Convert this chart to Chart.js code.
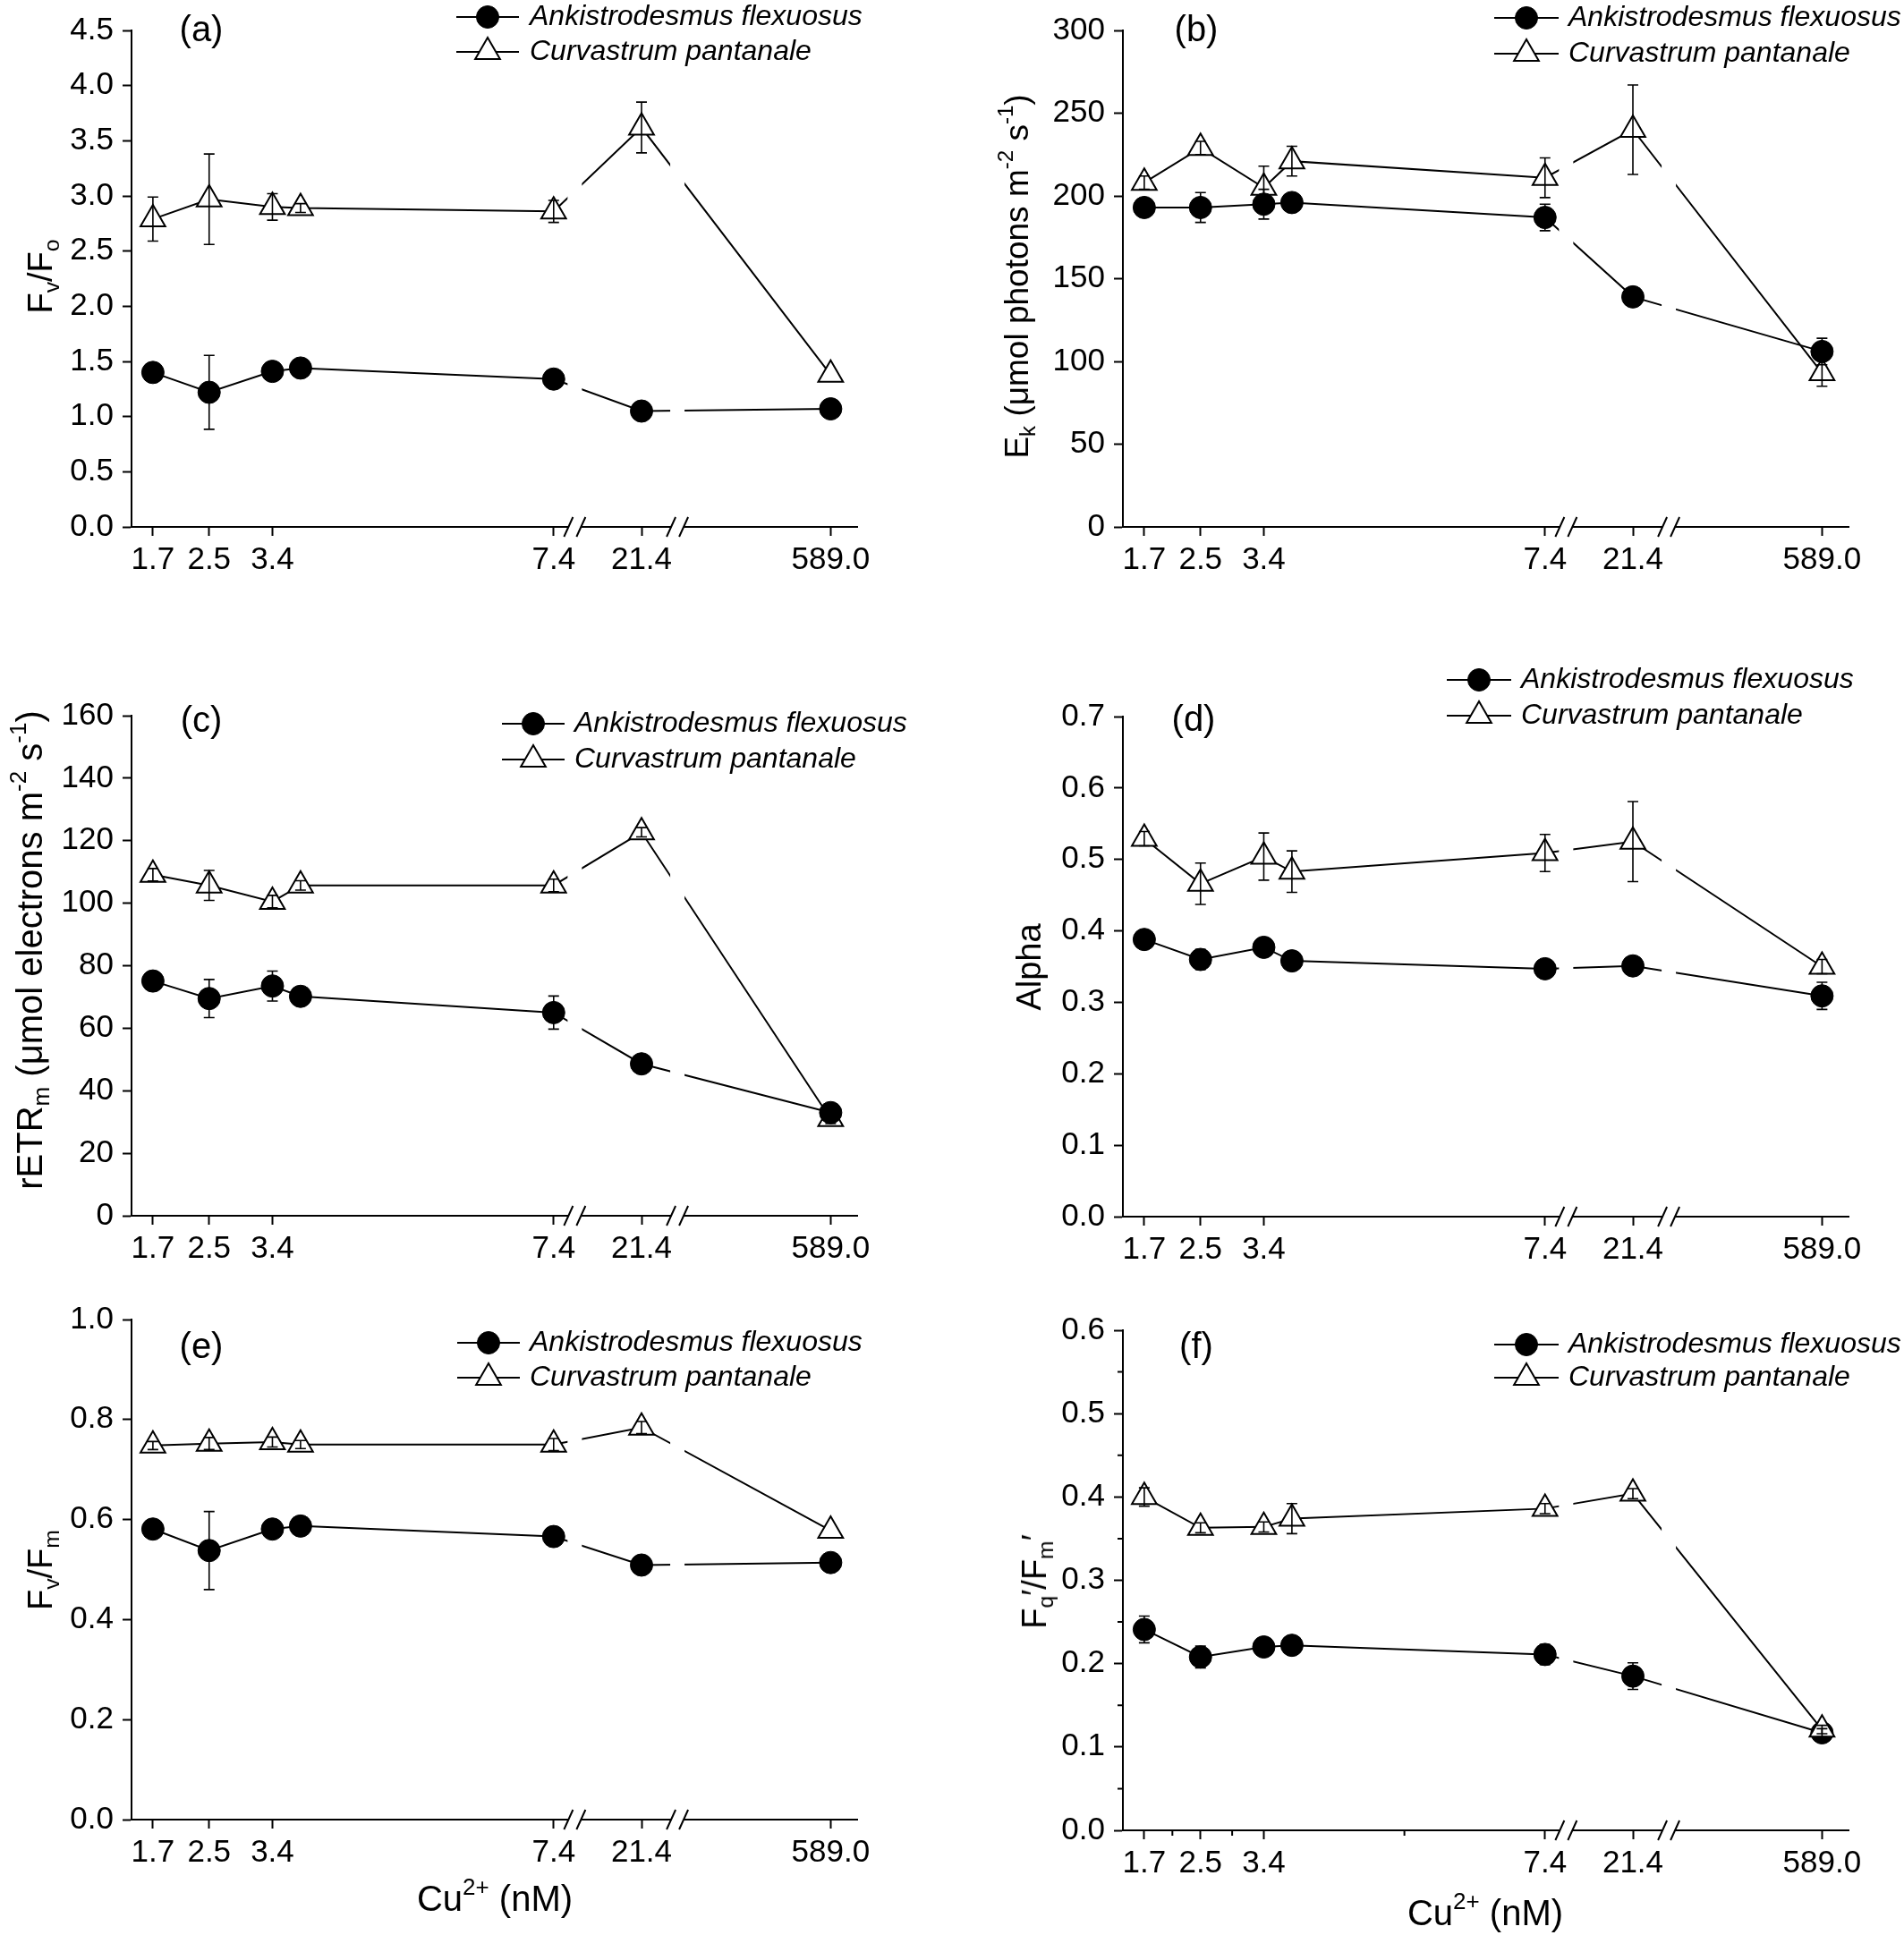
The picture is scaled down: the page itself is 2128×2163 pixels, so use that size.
<!DOCTYPE html>
<html>
<head>
<meta charset="utf-8">
<script src="https://cdn.jsdelivr.net/npm/chart.js@4.4.1/dist/chart.umd.min.js"></script>
<style>
  html, body { margin: 0; padding: 0; background: #fff; }
  #page { position: relative; width: 2128px; height: 2163px; overflow: hidden; background: #fff; }
  #page canvas { position: absolute; left: 0; top: 0; }
  .title { position: absolute; font-family: "Liberation Sans", Arial, sans-serif; font-size: 38px; line-height: 1; white-space: nowrap; color: #000; }
  .ytitle { transform: translate(-50%, -50%) rotate(-90deg); }
  .xtitle { transform: translate(-50%, -50%); }
  .title sub, .title sup { font-size: 65%; line-height: 0; position: relative; vertical-align: baseline; }
  .title sub { top: 0.32em; }
  .title sup { top: -0.7em; }
</style>
</head>
<body>
<div id="page"></div>
<script>
// 구리 농도 (nM) - x축 위치
const concentrations = [1.7, 2.5, 3.4, 3.8, 7.4, 21.4, 589.0];
const tickConcentrations = [1.7, 2.5, 3.4, 7.4, 21.4, 589.0];
const seriesNames = ["Ankistrodesmus flexuosus", "Curvastrum pantanale"];

// (a) Fv/Fo
const ankFvFo = [1.40, 1.22, 1.41, 1.44, 1.34, 1.05, 1.07];
const ankFvFoErr = [0.02, 0.335, 0.02, 0.02, 0.02, 0.02, 0.02];
const curFvFo = [2.79, 2.97, 2.90, 2.89, 2.86, 3.62, 1.38];
const curFvFoErr = [0.20, 0.41, 0.12, 0.04, 0.10, 0.23, 0];

// (b) Ek
const ankEk = [193, 193, 195, 196, 187, 139, 106];
const ankEkErr = [3, 9, 9, 3, 8, 3, 8];
const curEk = [208, 229, 205, 221, 211, 240, 93];
const curEkErr = [4, 4, 13, 9, 12, 27, 8];

// (c) rETRm
const ankEtr = [75.1, 69.5, 73.5, 70.2, 65.0, 48.6, 33.0];
const ankEtrErr = [1.5, 6.1, 4.8, 1.5, 5.3, 1.5, 1.5];
const curEtr = [109.1, 105.7, 100.5, 105.7, 105.7, 122.7, 31.0];
const curEtrErr = [2, 4.8, 2, 1.5, 2, 1.5, 1.5];

// (d) Alpha
const ankAlpha = [0.388, 0.360, 0.377, 0.358, 0.347, 0.351, 0.309];
const ankAlphaErr = [0.005, 0.014, 0.013, 0.005, 0.005, 0.005, 0.019];
const curAlpha = [0.529, 0.466, 0.504, 0.483, 0.509, 0.525, 0.350];
const curAlphaErr = [0.01, 0.029, 0.033, 0.029, 0.026, 0.056, 0.01];

// (e) Fv/Fm
const ankFvFm = [0.581, 0.538, 0.581, 0.587, 0.566, 0.509, 0.514];
const ankFvFmErr = [0.005, 0.078, 0.005, 0.005, 0.005, 0.005, 0.005];
const curFvFm = [0.748, 0.752, 0.755, 0.750, 0.750, 0.784, 0.578];
const curFvFmErr = [0.008, 0.012, 0.01, 0.008, 0.012, 0.012, 0];

// (f) Fq'/Fm'
const ankFq = [0.241, 0.208, 0.220, 0.222, 0.211, 0.185, 0.117];
const ankFqErr = [0.016, 0.013, 0.011, 0.005, 0.012, 0.016, 0.005];
const curFq = [0.400, 0.363, 0.364, 0.374, 0.386, 0.404, 0.121];
const curFqErr = [0.011, 0.006, 0.006, 0.018, 0.006, 0.006, 0.005];

// 끊어진 x축: 7.4까지는 선형, 그 뒤 두 구간은 압축
const breakAnchors = [[7.4, 7.4], [21.4, 8.65], [589.0, 11.34]];
const breakPositions = [7.70, 9.16];
const X_MIN = 1.396, X_MAX = 11.717;

function axisPos(c) {
  if (c <= breakAnchors[0][0]) return c;
  for (let i = 1; i < breakAnchors.length; i++) {
    const a = breakAnchors[i - 1], b = breakAnchors[i];
    if (c <= b[0]) return a[1] + (c - a[0]) / (b[0] - a[0]) * (b[1] - a[1]);
  }
  return breakAnchors[breakAnchors.length - 1][1];
}

const W = 2128, H = 2163;
const Y_AXIS_W = 110, X_AXIS_H = 80;
const FONT = '"Liberation Sans", Arial, sans-serif';
const GAP = 16;

// 오차막대, 축 끊김 표시, 범례, 패널 라벨
const panelDeco = {
  id: "panelDeco",
  beforeDatasetsDraw(chart) {
    const { ctx, scales: { x } } = chart;
    ctx.save();
    ctx.beginPath();
    let start = 0;
    breakPositions.forEach(b => {
      const px = x.getPixelForValue(b);
      ctx.rect(start, 0, px - GAP / 2 - start, chart.height);
      start = px + GAP / 2;
    });
    ctx.rect(start, 0, chart.width - start, chart.height);
    ctx.clip();
  },
  afterDatasetsDraw(chart) {
    const { ctx, scales: { x, y } } = chart;
    ctx.restore();
    // error bars
    ctx.save();
    ctx.strokeStyle = "#000";
    ctx.lineWidth = 1.6;
    chart.data.datasets.forEach(ds => {
      ds.errors.forEach((e, i) => {
        if (!e) return;
        const px = x.getPixelForValue(ds.data[i].x);
        const yt = y.getPixelForValue(ds.data[i].y + e);
        const yb = y.getPixelForValue(ds.data[i].y - e);
        ctx.beginPath();
        ctx.moveTo(px, yt); ctx.lineTo(px, yb);
        ctx.moveTo(px - 6, yt); ctx.lineTo(px + 6, yt);
        ctx.moveTo(px - 6, yb); ctx.lineTo(px + 6, yb);
        ctx.stroke();
      });
    });
    ctx.restore();
  },
  afterDraw(chart, args, opts) {
    const { ctx, chartArea, scales: { x, y } } = chart;
    const y0 = chartArea.bottom;
    ctx.save();
    // axis breaks
    breakPositions.forEach(b => {
      const px = x.getPixelForValue(b);
      ctx.fillStyle = "#fff";
      ctx.fillRect(px - 7, y0 - 4, 14, 8);
      ctx.strokeStyle = "#000";
      ctx.lineWidth = 2;
      ctx.beginPath();
      [-7, 7].forEach(dx => {
        ctx.moveTo(px + dx - 5, y0 + 11);
        ctx.lineTo(px + dx + 5, y0 - 11);
      });
      ctx.stroke();
    });
    // minor ticks (panel f)
    if (opts.minor) {
      ctx.strokeStyle = "#000";
      ctx.lineWidth = 2;
      ctx.beginPath();
      for (let v = opts.minor.yStep / 2; v < y.max; v += opts.minor.yStep) {
        const py = y.getPixelForValue(v);
        ctx.moveTo(chartArea.left, py); ctx.lineTo(chartArea.left - 6, py);
      }
      opts.minor.xBetween.forEach(pair => {
        const px = x.getPixelForValue((axisPos(pair[0]) + axisPos(pair[1])) / 2);
        ctx.moveTo(px, y0); ctx.lineTo(px, y0 + 6);
      });
      ctx.stroke();
    }
    // legend
    const lg = opts.legend;
    chart.data.datasets.forEach((ds, i) => {
      const ly = lg.rows[i];
      ctx.strokeStyle = "#000";
      ctx.lineWidth = 2;
      ctx.beginPath();
      ctx.moveTo(lg.x1, ly); ctx.lineTo(lg.x2, ly);
      ctx.stroke();
      ctx.fillStyle = ds.pointBackgroundColor;
      ctx.strokeStyle = ds.pointBorderColor;
      ctx.lineWidth = ds.pointBorderWidth;
      Chart.helpers.drawPoint(ctx, { pointStyle: ds.pointStyle, radius: ds.pointRadius, rotation: 0, borderWidth: ds.pointBorderWidth }, (lg.x1 + lg.x2) / 2, ly);
      ctx.fillStyle = "#000";
      ctx.font = "italic 32px " + FONT;
      ctx.textAlign = "left";
      ctx.textBaseline = "middle";
      ctx.fillText(ds.label, lg.tx, ly);
    });
    // panel label
    ctx.fillStyle = "#000";
    ctx.font = "40px " + FONT;
    ctx.textAlign = "center";
    ctx.textBaseline = "middle";
    ctx.fillText(opts.label, opts.labelPos[0], opts.labelPos[1]);
    ctx.restore();
  }
};

const page = document.getElementById("page");

function makePanel(cfg) {
  const canvas = document.createElement("canvas");
  canvas.width = W; canvas.height = H;
  canvas.style.width = W + "px"; canvas.style.height = H + "px";
  page.appendChild(canvas);

  const series = (label, vals, errs, isCircle, order) => ({
    label: label,
    data: concentrations.map((c, i) => ({ x: axisPos(c), y: vals[i] })),
    errors: errs,
    order: order,
    borderColor: "#000",
    borderWidth: 2,
    tension: 0,
    pointStyle: isCircle ? "circle" : "triangle",
    pointRadius: isCircle ? 12.5 : 16,
    pointBackgroundColor: isCircle ? "#000" : "#fff",
    pointBorderColor: "#000",
    pointBorderWidth: isCircle ? 1 : 2,
    clip: false
  });

  new Chart(canvas, {
    type: "line",
    data: {
      datasets: [
        series(seriesNames[0], cfg.ank, cfg.ankErr, true, cfg.triOnTop ? 1 : 0),
        series(seriesNames[1], cfg.cur, cfg.curErr, false, cfg.triOnTop ? 0 : 1)
      ]
    },
    options: {
      responsive: false,
      animation: false,
      devicePixelRatio: 1,
      events: [],
      layout: {
        padding: {
          left: cfg.left - Y_AXIS_W,
          right: W - cfg.right,
          top: cfg.top,
          bottom: H - cfg.bottom - X_AXIS_H
        }
      },
      scales: {
        x: {
          type: "linear",
          min: X_MIN,
          max: X_MAX,
          afterFit: s => { s.height = X_AXIS_H; },
          afterBuildTicks: s => { s.ticks = tickConcentrations.map(c => ({ value: axisPos(c) })); },
          ticks: {
            autoSkip: false,
            maxRotation: 0,
            padding: 6,
            color: "#000",
            font: { family: FONT, size: 35 },
            callback: (v, i) => tickConcentrations[i].toFixed(1)
          },
          grid: { drawOnChartArea: false, drawTicks: true, tickLength: 10, tickWidth: 2, tickColor: "#000" },
          border: { display: true, color: "#000", width: 2 }
        },
        y: {
          min: 0,
          max: cfg.yMax,
          afterFit: s => { s.width = Y_AXIS_W; },
          ticks: {
            stepSize: cfg.yStep,
            padding: 10,
            color: "#000",
            font: { family: FONT, size: 35 },
            callback: v => v.toFixed(cfg.dec)
          },
          grid: { drawOnChartArea: false, drawTicks: true, tickLength: 10, tickWidth: 2, tickColor: "#000" },
          border: { display: true, color: "#000", width: 2 }
        }
      },
      plugins: {
        legend: { display: false },
        tooltip: { enabled: false },
        panelDeco: {
          label: cfg.label,
          labelPos: cfg.labelPos,
          legend: cfg.legend,
          minor: cfg.minor || null
        }
      }
    },
    plugins: [panelDeco]
  });

  const yt = document.createElement("div");
  yt.className = "title ytitle";
  yt.innerHTML = cfg.yTitle;
  yt.style.left = cfg.yTitlePos[0] + "px";
  yt.style.top = cfg.yTitlePos[1] + "px";
  if (cfg.yTitleSize) yt.style.fontSize = cfg.yTitleSize + "px";
  page.appendChild(yt);

  if (cfg.xTitle) {
    const xt = document.createElement("div");
    xt.className = "title xtitle";
    xt.innerHTML = cfg.xTitle;
    xt.style.left = cfg.xTitlePos[0] + "px";
    xt.style.top = cfg.xTitlePos[1] + "px";
    xt.style.fontSize = "40px";
    page.appendChild(xt);
  }
}

const LEFT_COL = { left: 147, right: 958 };
const RIGHT_COL = { left: 1255, right: 2066 };
const xTitleHtml = "Cu<sup>2+</sup> (nM)";

// (a)
makePanel({
  ...LEFT_COL, top: 34, bottom: 589,
  yMax: 4.5, yStep: 0.5, dec: 1,
  ank: ankFvFo, ankErr: ankFvFoErr, cur: curFvFo, curErr: curFvFoErr,
  label: "(a)", labelPos: [225, 35],
  legend: { x1: 510, x2: 580, tx: 592, rows: [19, 58] },
  yTitle: "F<sub>v</sub>/F<sub>o</sub>", yTitlePos: [45, 309]
});

// (b)
makePanel({
  ...RIGHT_COL, top: 34, bottom: 589,
  yMax: 300, yStep: 50, dec: 0,
  ank: ankEk, ankErr: ankEkErr, cur: curEk, curErr: curEkErr,
  label: "(b)", labelPos: [1337, 35],
  legend: { x1: 1670, x2: 1742, tx: 1753, rows: [20, 60] },
  yTitle: "E<sub>k</sub> (&mu;mol photons m<sup>-2</sup> s<sup>-1</sup>)", yTitlePos: [1136, 309], yTitleSize: 37
});

// (c)
makePanel({
  ...LEFT_COL, top: 800, bottom: 1359,
  yMax: 160, yStep: 20, dec: 0,
  ank: ankEtr, ankErr: ankEtrErr, cur: curEtr, curErr: curEtrErr,
  label: "(c)", labelPos: [225, 807],
  legend: { x1: 561, x2: 631, tx: 642, rows: [809, 849] },
  yTitle: "rETR<sub>m</sub> (&mu;mol electrons m<sup>-2</sup> s<sup>-1</sup>)", yTitlePos: [33, 1062], yTitleSize: 40
});

// (d)
makePanel({
  ...RIGHT_COL, top: 801, bottom: 1360,
  yMax: 0.7, yStep: 0.1, dec: 1,
  ank: ankAlpha, ankErr: ankAlphaErr, cur: curAlpha, curErr: curAlphaErr,
  label: "(d)", labelPos: [1334, 806],
  legend: { x1: 1617, x2: 1689, tx: 1700, rows: [760, 800] },
  yTitle: "Alpha", yTitlePos: [1150, 1081]
});

// (e)
makePanel({
  ...LEFT_COL, top: 1475, bottom: 2034,
  yMax: 1.0, yStep: 0.2, dec: 1,
  ank: ankFvFm, ankErr: ankFvFmErr, cur: curFvFm, curErr: curFvFmErr,
  label: "(e)", labelPos: [225, 1507],
  legend: { x1: 511, x2: 581, tx: 592, rows: [1501, 1540] },
  yTitle: "F<sub>v</sub>/F<sub>m</sub>", yTitlePos: [45, 1755],
  xTitle: xTitleHtml, xTitlePos: [553, 2122]
});

// (f)
makePanel({
  ...RIGHT_COL, top: 1487, bottom: 2046,
  yMax: 0.6, yStep: 0.1, dec: 1,
  ank: ankFq, ankErr: ankFqErr, cur: curFq, curErr: curFqErr,
  triOnTop: true,
  label: "(f)", labelPos: [1337, 1507],
  legend: { x1: 1670, x2: 1742, tx: 1753, rows: [1503, 1540] },
  minor: { yStep: 0.1, xBetween: [[1.7, 2.5], [2.5, 3.4], [3.4, 7.4]] },
  yTitle: "F<sub>q</sub>&prime;/F<sub>m</sub>&prime;", yTitlePos: [1156, 1768],
  xTitle: xTitleHtml, xTitlePos: [1660, 2138]
});
</script>
</body>
</html>
